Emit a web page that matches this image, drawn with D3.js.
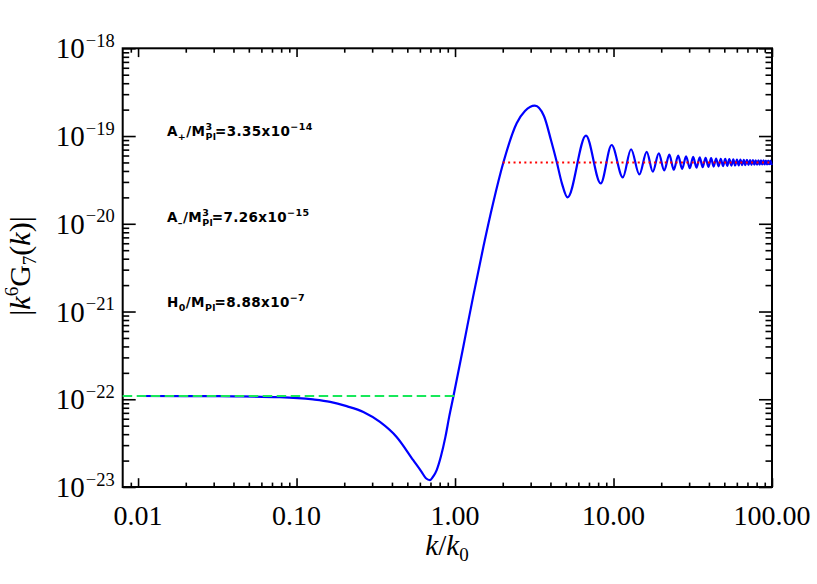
<!DOCTYPE html>
<html>
<head>
<meta charset="utf-8">
<script src="https://cdn.jsdelivr.net/npm/d3@7/dist/d3.min.js"></script>
<style>
  html, body { margin: 0; padding: 0; background: #fff; }
  svg { display: block; }
</style>
</head>
<body>
<svg id="chart" width="817" height="584"></svg>
<script>
// ---------------- data ----------------
const curveK = [0.01, 0.02, 0.04, 0.0785, 0.127, 0.163, 0.207, 0.264, 0.336, 0.428, 0.545, 0.615, 0.655, 0.695, 0.731, 0.766, 0.815, 0.869, 0.919, 0.975,
  1.127, 1.30, 1.51, 1.734, 2.014, 2.449, 2.762, 3.19, 3.64, 4.03, 4.38, 4.72, 5.13, 6.70,
  8.30, 9.73, 11.45, 12.9, 14.55, 16.2, 17.7, 19.3, 20.9, 22.5, 24.0, 25.6, 27.1, 28.7, 30.3, 31.8, 33.4, 35.0, 36.5, 38.1, 39.7, 41.3,
  42.8, 44.4, 46.0, 47.5, 49.1, 50.7, 52.2, 53.8, 55.4, 57.0, 58.5, 60.1, 61.7, 63.2, 64.8, 66.4, 67.9, 69.5, 71.1, 72.7, 74.2, 75.8,
  77.4, 78.9, 80.5, 82.1, 83.6, 85.2, 86.8, 88.4, 89.9, 91.5, 93.1, 94.6, 96.2, 97.8, 99.3, 100];
const curveG = [1.09e-22, 1.088e-22, 1.08e-22, 1.057e-22, 9.95e-23, 9.33e-23, 8.34e-23, 7.18e-23, 5.52e-23, 3.72e-23, 2.02e-23, 1.49e-23, 1.26e-23, 1.20e-23, 1.33e-23, 1.56e-23, 2.24e-23, 3.70e-23, 6.34e-23, 1.06e-22,
  3.95e-22, 1.47e-21, 5.47e-21, 1.68e-20, 4.92e-20, 1.40e-19, 1.93e-19, 2.22e-19, 1.69e-19, 9.0e-20, 5.09e-20, 2.91e-20, 2.0e-20, 1.01e-19,
  2.88e-20, 7.9e-20, 3.38e-20, 7.07e-20, 3.65e-20, 6.6e-20, 3.92e-20, 6.35e-20, 4.05e-20, 6.13e-20, 4.13e-20, 5.99e-20, 4.22e-20, 5.87e-20, 4.30e-20, 5.78e-20, 4.36e-20, 5.71e-20, 4.41e-20, 5.64e-20, 4.45e-20, 5.59e-20,
  4.49e-20, 5.55e-20, 4.52e-20, 5.51e-20, 4.55e-20, 5.48e-20, 4.58e-20, 5.45e-20, 4.60e-20, 5.42e-20, 4.62e-20, 5.40e-20, 4.64e-20, 5.38e-20, 4.66e-20, 5.36e-20, 4.67e-20, 5.35e-20, 4.68e-20, 5.33e-20, 4.70e-20, 5.31e-20,
  4.71e-20, 5.30e-20, 4.72e-20, 5.29e-20, 4.73e-20, 5.28e-20, 4.74e-20, 5.27e-20, 4.75e-20, 5.26e-20, 4.76e-20, 5.25e-20, 4.77e-20, 5.24e-20, 4.77e-20, 4.85e-20];

const lowLimitK = [0.008, 1.0];      // green dashed asymptote
const lowLimitG = [1.09e-22, 1.09e-22];
const highLimitK = [2.0, 100];       // red dotted asymptote
const highLimitG = [5.0e-20, 5.0e-20];

const xDomain = [0.008, 100];
const yDomain = [1e-23, 1e-18];
const xTicks = [0.01, 0.1, 1, 10, 100];
const xTickLabels = ["0.01", "0.10", "1.00", "10.00", "100.00"];
const yTicks = [1e-23, 1e-22, 1e-21, 1e-20, 1e-19, 1e-18];
const yTickExps = ["\u221223", "\u221222", "\u221221", "\u221220", "\u221219", "\u221218"];

const annotations = [
  { base: "A", sub1: "+", mid: "/M", sup: "3", sub: "Pl", val: "=3.35x10", exp: "\u221214" },
  { base: "A", sub1: "\u2013", mid: "/M", sup: "3", sub: "Pl", val: "=7.26x10", exp: "\u221215" },
  { base: "H", sub1: "0", mid: "/M", sup: "", sub: "Pl", val: "=8.88x10", exp: "\u22127" }
];

// ---------------- layout ----------------
const W = 817, H = 584;
const L = 122.7, R = 772, T = 48.3, B = 487;
const svg = d3.select("#chart");
svg.append("rect").attr("width", W).attr("height", H).attr("fill", "#fff");

const x = d3.scaleLog().domain(xDomain).range([L, R]);
const y = d3.scaleLog().domain(yDomain).range([B, T]);

const serif = "'Liberation Serif', 'Times New Roman', serif";
const sans = "'DejaVu Sans', 'Liberation Sans', sans-serif";

// minor tick values
const xMinor = [];
[0.001, 0.01, 0.1, 1, 10].forEach(d => { for (let m = 2; m <= 9; m++) { const v = d * m; if (v > xDomain[0] * 1.0001 && v < xDomain[1]) xMinor.push(v); } });
const yMinor = [];
[1e-23, 1e-22, 1e-21, 1e-20, 1e-19].forEach(d => { for (let m = 2; m <= 9; m++) yMinor.push(d * m); });

function styleAxis(g) {
  g.select(".domain").remove();
  g.selectAll(".tick line").attr("stroke", "#000").attr("stroke-width", 1.6);
  g.selectAll(".tick text").remove();
}
const xLen = 8.8, yLen = 13;
svg.append("g").attr("transform", `translate(0,${B})`).call(d3.axisBottom(x).tickValues(xTicks).tickSize(-xLen).tickSizeOuter(0).tickFormat("")).call(styleAxis);
svg.append("g").attr("transform", `translate(0,${B})`).call(d3.axisBottom(x).tickValues(xMinor).tickSize(-xLen / 2).tickSizeOuter(0).tickFormat("")).call(styleAxis);
svg.append("g").attr("transform", `translate(0,${T})`).call(d3.axisTop(x).tickValues(xTicks).tickSize(-xLen).tickSizeOuter(0).tickFormat("")).call(styleAxis);
svg.append("g").attr("transform", `translate(0,${T})`).call(d3.axisTop(x).tickValues(xMinor).tickSize(-xLen / 2).tickSizeOuter(0).tickFormat("")).call(styleAxis);
svg.append("g").attr("transform", `translate(${L},0)`).call(d3.axisLeft(y).tickValues(yTicks).tickSize(-yLen).tickSizeOuter(0).tickFormat("")).call(styleAxis);
svg.append("g").attr("transform", `translate(${L},0)`).call(d3.axisLeft(y).tickValues(yMinor).tickSize(-yLen / 2).tickSizeOuter(0).tickFormat("")).call(styleAxis);
svg.append("g").attr("transform", `translate(${R},0)`).call(d3.axisRight(y).tickValues(yTicks).tickSize(-yLen).tickSizeOuter(0).tickFormat("")).call(styleAxis);
svg.append("g").attr("transform", `translate(${R},0)`).call(d3.axisRight(y).tickValues(yMinor).tickSize(-yLen / 2).tickSizeOuter(0).tickFormat("")).call(styleAxis);

svg.append("rect").attr("x", L).attr("y", T).attr("width", R - L).attr("height", B - T)
  .attr("fill", "none").attr("stroke", "#000").attr("stroke-width", 2);

// x tick labels
svg.append("g").selectAll("text").data(xTicks).join("text")
  .attr("x", d => x(d)).attr("y", B + 38)
  .attr("text-anchor", "middle").attr("font-family", serif).attr("font-size", 28)
  .text((d, i) => xTickLabels[i]);

// y tick labels: 10^exp
yTicks.forEach((v, i) => {
  const t = svg.append("text").attr("x", L - 8).attr("y", y(v) + 10)
    .attr("text-anchor", "end").attr("font-family", serif).attr("font-size", 29);
  t.append("tspan").text("10");
  t.append("tspan").attr("font-size", 18.5).attr("dy", -11.5).attr("dx", 1).text(yTickExps[i]);
});

// ---------------- data lines ----------------
const pts = curveK.map((k, i) => [k, curveG[i]]);
const line = d3.line().x(d => x(d[0])).y(d => y(d[1])).curve(d3.curveMonotoneX);
svg.append("path").datum(pts).attr("d", line)
  .attr("fill", "none").attr("stroke", "#0000ff").attr("stroke-width", 2.2).attr("stroke-linejoin", "round");

const lin = d3.line().x(d => x(d[0])).y(d => y(d[1]));
svg.append("path").datum(lowLimitK.map((k, i) => [k, lowLimitG[i]])).attr("d", lin)
  .attr("fill", "none").attr("stroke", "#18e85a").attr("stroke-width", 2).attr("stroke-dasharray", "9.5,4.5");
svg.append("path").datum(highLimitK.map((k, i) => [k, highLimitG[i]])).attr("d", lin)
  .attr("fill", "none").attr("stroke", "#ff0000").attr("stroke-width", 2).attr("stroke-dasharray", "2,3.4");

// ---------------- annotations ----------------
const aSize = 13.5, aSmall = 9.5;
function richAnnot(xp, yp, a) {
  const t = svg.append("text").attr("x", xp).attr("y", yp)
    .attr("font-family", sans).attr("font-weight", "bold").attr("font-size", aSize)
    .style("letter-spacing", "0.4px");
  let cur = 0;
  function piece(txt, size, off, dx) {
    const s = t.append("tspan").text(txt).attr("font-size", size).attr("dy", off - cur);
    if (dx) s.attr("dx", dx);
    cur = off;
    return s;
  }
  piece(a.base, aSize, 0);
  piece(a.sub1, aSmall, 4);
  piece(a.mid, aSize, 0);
  let w1 = 0;
  if (a.sup) { const s = piece(a.sup, aSmall, -6); w1 = s.node().getComputedTextLength(); }
  const s2 = piece(a.sub, aSmall, 4, w1 ? -w1 : 0);
  const w2 = s2.node().getComputedTextLength();
  piece(a.val, aSize, 0, w1 > w2 ? w1 - w2 : -1.5);
  piece(a.exp, aSmall, -6);
}
const annotX = 167;
const annotBase = [136, 221.5, 307];
annotations.forEach((a, i) => richAnnot(annotX, annotBase[i], a));

// ---------------- axis titles ----------------
const xt = svg.append("text").attr("x", 447).attr("y", 555).attr("text-anchor", "middle")
  .attr("font-family", serif).attr("font-size", 29);
xt.append("tspan").attr("font-style", "italic").text("k");
xt.append("tspan").text("/");
xt.append("tspan").attr("font-style", "italic").text("k");
xt.append("tspan").attr("font-size", 19).attr("dy", 6).text("0");

const yt = svg.append("text").attr("transform", "translate(30,266) rotate(-90)").attr("text-anchor", "middle")
  .attr("font-family", serif).attr("font-size", 30);
yt.append("tspan").text("|");
yt.append("tspan").attr("font-style", "italic").text("k");
yt.append("tspan").attr("font-size", 19).attr("dy", -12).text("6");
yt.append("tspan").attr("dy", 12).text("G");
yt.append("tspan").attr("font-size", 19).attr("dy", 6).text("7");
yt.append("tspan").attr("dy", -6).text("(");
yt.append("tspan").attr("font-style", "italic").text("k");
yt.append("tspan").text(")|");
</script>
</body>
</html>
